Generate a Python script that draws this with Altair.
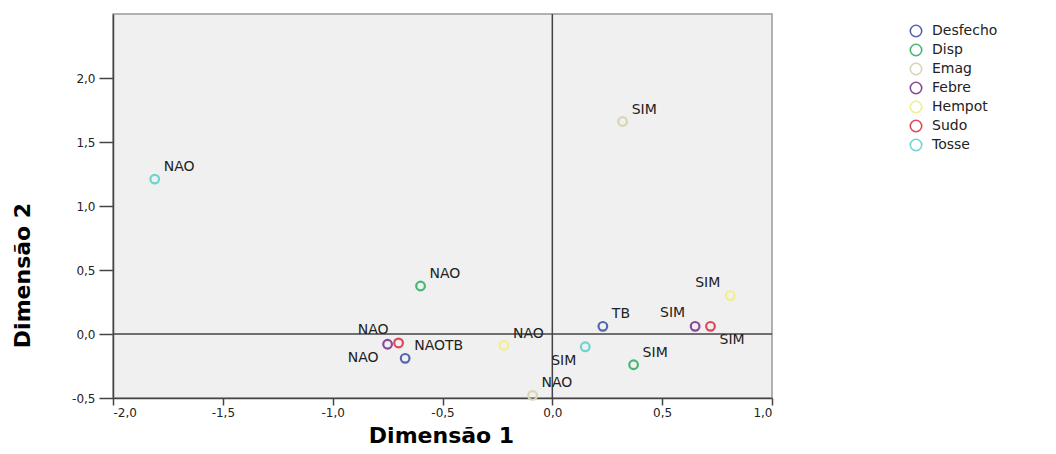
import altair as alt
import pandas as pd

variables = ["Desfecho", "Desfecho", "Disp", "Disp", "Emag", "Emag", "Febre", "Febre",
             "Hempot", "Hempot", "Sudo", "Sudo", "Tosse", "Tosse"]
categories = ["TB", "NAOTB", "NAO", "SIM", "SIM", "NAO", "SIM", "NAO",
              "SIM", "NAO", "SIM", "NAO", "NAO", "SIM"]
dim1 = [0.23, -0.67, -0.60, 0.37, 0.32, -0.09, 0.65, -0.75,
        0.81, -0.22, 0.72, -0.70, -1.81, 0.15]
dim2 = [0.06, -0.19, 0.375, -0.24, 1.66, -0.48, 0.06, -0.08,
        0.30, -0.09, 0.06, -0.07, 1.21, -0.10]
label_side = ["ne", "ne", "ne", "ne", "ne", "ne", "nw", "sw",
              "nw", "ne", "se", "nw", "ne", "sw"]

legend_order = ["Desfecho", "Disp", "Emag", "Febre", "Hempot", "Sudo", "Tosse"]
legend_colors = ["#5566AE", "#48B572", "#D8D5B6", "#874897", "#F3EE8C", "#E04659", "#6DD4CE"]

df = pd.DataFrame({"var": variables, "cat": categories, "d1": dim1, "d2": dim2,
                   "side": label_side})

FONT = "DejaVu Sans"
TFONT = "DejaVu Sans"
LBL = "replace(replace(format(datum.value, '.1f'), '.', ','), '\u2212', '-')"

xs = alt.X("d1:Q", scale=alt.Scale(domain=[-2.0, 1.0], nice=False, zero=False),
           axis=alt.Axis(title="Dimensão 1", values=[-2.0, -1.5, -1.0, -0.5, 0.0, 0.5, 1.0],
                         labelExpr=LBL,
                         grid=False, tickSize=7, tickColor="#444", domainColor="#444",
                         domainWidth=1.5, tickWidth=1.5,
                         labelFont=FONT, labelFontSize=12, labelColor="#222", labelPadding=2,
                         titleFont=TFONT, titleFontSize=22,
                         titleFontWeight="bold", titleColor="#000",
                         titleX=328, titleY=37, titleBaseline="middle", titleAlign="center"))
ys = alt.Y("d2:Q", scale=alt.Scale(domain=[-0.5, 2.5], nice=False, zero=False),
           axis=alt.Axis(title="Dimensão 2", values=[-0.5, 0.0, 0.5, 1.0, 1.5, 2.0],
                         labelExpr=LBL,
                         grid=False, tickSize=14, tickColor="#444", domainColor="#444",
                         domainWidth=1.5, tickWidth=1.5,
                         labelFont=FONT, labelFontSize=12, labelColor="#222", labelPadding=4,
                         titleFont=TFONT, titleFontSize=22,
                         titleFontWeight="bold", titleColor="#000",
                         titleX=-91, titleY=261, titleAngle=-90,
                         titleBaseline="middle", titleAlign="center"))

color = alt.Color("var:N", scale=alt.Scale(domain=legend_order, range=legend_colors),
                  legend=alt.Legend(title=None, orient="none", legendX=796, legendY=10,
                                    symbolType="circle", symbolSize=130, symbolStrokeWidth=1.6,
                                    symbolFillColor="transparent",
                                    labelFont=FONT, labelFontSize=14, labelColor="#222",
                                    labelOffset=9, rowPadding=1, padding=0))

base = alt.Chart(df)

points = base.mark_point(shape="circle", size=75, strokeWidth=2.2, filled=False, opacity=1).encode(
    x=xs, y=ys, color=color)

zero_df = pd.DataFrame({"z": [0.0]})
vline = alt.Chart(zero_df).mark_rule(color="#444", strokeWidth=1.5).encode(x=alt.X("z:Q"))
hline = alt.Chart(zero_df).mark_rule(color="#444", strokeWidth=1.5).encode(y=alt.Y("z:Q"))

offsets = {"ne": ("left", 9, -12), "nw": ("right", -10, -13),
           "se": ("left", 9, 14), "sw": ("right", -9, 14)}
texts = []
for side, (al, dx, dy) in offsets.items():
    texts.append(base.transform_filter(alt.datum.side == side).mark_text(
        align=al, baseline="middle", dx=dx, dy=dy, font=FONT, fontSize=14, color="#222"
    ).encode(x="d1:Q", y="d2:Q", text="cat:N"))

chart = alt.layer(vline, hline, points, *texts).properties(
    width=659, height=384,
    autosize=alt.AutoSizeParams(type="none"),
    padding={"left": 113, "top": 14, "right": 284, "bottom": 56},
    background="white",
).configure_view(fill="#F0F0F0", stroke="#999", strokeWidth=1.5)

chart.save("out.html", embed_options={"renderer": "svg", "actions": False})
